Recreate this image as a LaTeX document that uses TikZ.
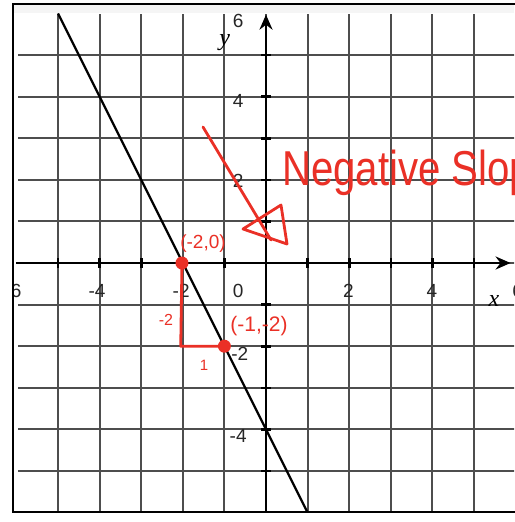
\documentclass[tikz,border=0pt]{standalone}
\usepackage{fontspec}
\setmainfont{Liberation Sans}
\newfontfamily\serifit{Liberation Serif}[ItalicFont={Liberation Serif Italic}]
\usetikzlibrary{arrows.meta}
\definecolor{ink}{RGB}{234,48,38}
\definecolor{gridc}{RGB}{78,78,78}
\tikzset{
  gridline/.style={draw=gridc, line width=2pt},
  axisline/.style={draw=black, line width=2.4pt},
  tickmark/.style={draw=black, line width=2.6pt},
  graphline/.style={draw=black, line width=2.2pt},
  numlabel/.style={font=\fontsize{19}{20}\selectfont, text=black!85, inner sep=0pt},
  varlabel/.style={font=\serifit\itshape\fontsize{24}{26}\selectfont, inner sep=0pt},
  redline/.style={draw=ink, line width=2.8pt, line cap=round, line join=round},
  redtext/.style={text=ink, inner sep=0pt},
}
\begin{document}
\begin{tikzpicture}[x=1pt,y=-1pt]
\useasboundingbox (0,0) rectangle (514,522);
\fill[white] (0,0) rectangle (514,522);
% grid and axes, clipped to frame interior
\begin{scope}
  \clip (18,14) rectangle (514,512);
  \begin{scope}[shift={(266,263)},x=41.6pt,y=41.6pt]
    \foreach \i in {-6,...,6} {
      \draw[gridline] (\i,-6.3) -- (\i,6.3);
      \draw[gridline] (-6.3,\i) -- (6.3,\i);
    }
  \end{scope}
\end{scope}
\begin{scope}
  \clip (14,5) rectangle (514,511);
  \begin{scope}[shift={(266,263)},x=41.6pt,y=41.6pt]
    \coordinate (xs) at (-6.0,0);
    \coordinate (xe) at (5.88,0);
    \coordinate (ys) at (0,-6.3);
    \coordinate (ye) at (0,5.97);
    \draw[axisline,-{Stealth[length=15pt,width=13pt]}] (xs) -- (xe);
    \draw[axisline,-{Stealth[length=15pt,width=13pt]}] (ys) -- (ye);
    \foreach \i in {-5,...,5} {
      \draw[tickmark] (\i,-0.11) -- (\i,0.11);
      \draw[tickmark] (-0.11,\i) -- (0.11,\i);
    }
    % axis numbers
    \node[numlabel] (lxm6) at (-6.08,-0.68) {-6};
    \node[numlabel] (lxm4) at (-4.06,-0.68) {-4};
    \node[numlabel] (lxm2) at (-2.04,-0.68) {-2};
    \node[numlabel] (lx0)  at (-0.67,-0.68) {0};
    \node[numlabel] (lx2)  at (1.98,-0.68) {2};
    \node[numlabel] (lx4)  at (3.99,-0.68) {4};
    \node[numlabel] (lx6)  at (6.05,-0.68) {6};
    \node[numlabel] (ly6)  at (-0.67,5.81) {6};
    \node[numlabel] (ly4)  at (-0.67,3.89) {4};
    \node[numlabel] (ly2)  at (-0.67,1.97) {2};
    \node[numlabel] (lym2) at (-0.63,-2.18) {-2};
    \node[numlabel] (lym4) at (-0.67,-4.16) {-4};
    \node[varlabel] (ylab) at (-0.99,5.29) {y};
    \node[varlabel] (xlab) at (5.48,-0.91) {x};
    % the line y = -2x - 4
    \coordinate (L1) at (-5,6);
    \coordinate (L2) at (1,-6);
    \draw[graphline] (L1) -- (L2);
    % red annotations
    \coordinate (A) at (-2.02,0);
    \coordinate (B) at (-1,-2);
    \coordinate (C) at (-2.05,-2);
    \draw[redline] (A) -- (C) -- (B);
    \fill[ink] (A) circle (6.5pt);
    \fill[ink] (B) circle (6.5pt);
  \end{scope}
  % top strip
  \fill[gray!8] (14,5) rectangle (514,13);
  % handwritten labels
  \node[redtext, font=\fontsize{19}{20}\selectfont] (lblA) at (203,244) {(-2,0)};
  \node[redtext, font=\fontsize{21}{22}\selectfont] (lblB) at (259,326) {(-1,-2)};
  \node[redtext, font=\fontsize{16}{17}\selectfont] (rise) at (166,320) {-2};
  \node[redtext, font=\fontsize{15}{16}\selectfont] (run) at (204,365) {1};
  \node[redtext, anchor=base west, font=\fontsize{49}{50}\selectfont] (title) at (282,185) {\scalebox{0.82}[1]{Negative Slope}};
  % hand-drawn arrow
  \coordinate (as) at (203,127);
  \coordinate (ae) at (271,240);
  \coordinate (h1) at (243,229);
  \coordinate (h2) at (281,205);
  \coordinate (h3) at (287,244);
  \draw[redline] (as) -- (ae);
  \draw[redline] (h1) -- (h2) -- (h3) -- cycle;
\end{scope}
% frame
\draw[line width=2pt] (516,4) -- (13,4) -- (13,512) -- (516,512);
\end{tikzpicture}
\end{document}
